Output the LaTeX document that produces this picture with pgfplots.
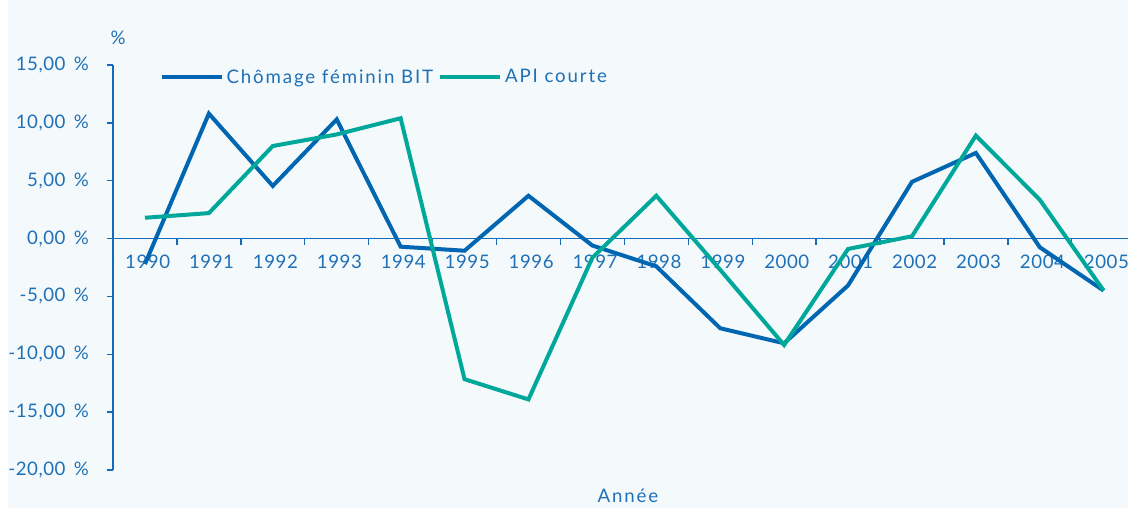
\documentclass[border=0pt]{standalone}
\usepackage{pgfplots}
\pgfplotsset{compat=1.18}
\usepackage{fontspec}
\setmainfont{Lato}
\newfontfamily\legfont[LetterSpace=10]{Lato}
\newfontfamily\tickfont[LetterSpace=3]{Lato}
\definecolor{bg}{RGB}{244,250,251}
\definecolor{txt}{RGB}{31,112,183}
\definecolor{axc}{RGB}{20,108,184}
\definecolor{bleu}{RGB}{0,102,178}
\definecolor{turq}{RGB}{0,168,155}
\begin{document}
\begin{tikzpicture}
\path[use as bounding box, fill=bg] (0,0) rectangle (846pt,381pt);
\fill[white] (0,0) rectangle (6pt,381pt);
\begin{axis}[
  at={(84.75pt,28.5pt)}, anchor=south west,
  scale only axis, width=761.25pt, height=303.75pt,
  xmin=-0.5, xmax=15.38, ymin=-20, ymax=15,
  clip=false,
  axis x line=middle, axis y line=left,
  axis line style={-, draw=axc, line width=1pt},
  tick align=outside,
  major tick length=4.5pt,
  tick style={draw=axc, line width=1pt},
  xtick={0.5,1.5,...,14.5}, xticklabels={},
  extra x ticks={0,1,...,15},
  extra x tick labels={1990,1991,1992,1993,1994,1995,1996,1997,1998,1999,2000,2001,2002,2003,2004,2005},
  extra x tick style={major tick length=0pt},
  xticklabel style={yshift=-9pt, xshift=2pt},
  ytick={-20,-15,-10,-5,0,5,10,15},
  yticklabels={{-20,00\ \,\%},{-15,00\ \,\%},{-10,00\ \,\%},{-5,00\ \,\%},{0,00\ \,\%},{5,00\ \,\%},{10,00\ \,\%},{15,00\ \,\%}},
  yticklabel style={xshift=-10pt},
  tick label style={text=txt, font=\tickfont\fontsize{14}{16}\selectfont},
  legend style={draw=none, fill=none, at={(0.046,0.97)}, anchor=west,
    font=\legfont\fontsize{14}{16}\selectfont, text=txt, inner sep=0pt,
    /tikz/every even column/.append style={column sep=2pt}},
  legend columns=-1,
  legend image code/.code={\draw[#1] (0pt,0pt) -- (45pt,0pt);},
]
\addplot[bleu, line width=3pt, line join=miter] coordinates {
(0,-2.2) (1,10.8) (2,4.55) (3,10.3) (4,-0.7) (5,-1.05) (6,3.7) (7,-0.6)
(8,-2.4) (9,-7.75) (10,-9.05) (11,-4.05) (12,4.9) (13,7.4) (14,-0.75) (15,-4.5)};
\addlegendentry{Chômage féminin BIT}
\addplot[turq, line width=3pt, line join=miter] coordinates {
(0,1.8) (1,2.2) (2,8.0) (3,9.0) (4,10.4) (5,-12.15) (6,-13.9) (7,-1.65)
(8,3.7) (9,-2.7) (10,-9.2) (11,-0.9) (12,0.2) (13,8.9) (14,3.35) (15,-4.5)};
\addlegendentry{API courte}
\end{axis}
\node[text=txt, font=\tickfont\fontsize{14}{16}\selectfont] at (88.5pt,352.5pt) {\%};
\node[text=txt, font=\legfont\fontsize{14}{16}\selectfont] at (471pt,9pt) {Année};
\end{tikzpicture}
\end{document}
